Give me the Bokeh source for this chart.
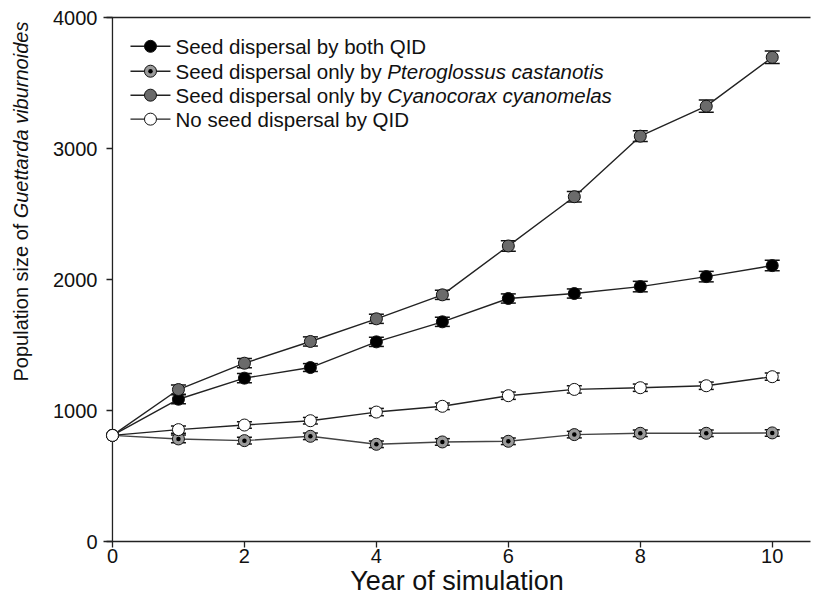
import numpy as np
from bokeh.plotting import figure
from bokeh.layouts import row
from bokeh.models import (ColumnDataSource, Whisker, TeeHead, LinearAxis,
                          FixedTicker, Range1d)
from bokeh.core.properties import value
from bokeh.embed import file_html
from bokeh.resources import INLINE

# ---------------- data ----------------
years = [0, 1, 2, 3, 4, 5, 6, 7, 8, 9, 10]
both_qid = [810, 1086, 1247, 1328, 1524, 1677, 1855, 1893, 1946, 2022, 2106]
both_qid_err = [0, 35, 35, 30, 35, 35, 35, 35, 40, 40, 40]
ptero = [810, 783, 770, 803, 742, 760, 765, 816, 826, 826, 829]
ptero_err = [0, 30, 25, 25, 25, 25, 25, 25, 25, 25, 25]
cyano = [810, 1160, 1361, 1527, 1700, 1883, 2256, 2632, 3094, 3323, 3696]
cyano_err = [0, 35, 35, 35, 35, 35, 40, 40, 41, 47, 48]
no_qid = [810, 854, 889, 922, 988, 1032, 1113, 1161, 1174, 1189, 1258]
no_qid_err = [0, 28, 25, 25, 28, 25, 28, 28, 28, 28, 28]

x_ticks = [0, 2, 4, 6, 8, 10]
y_ticks = [0, 1000, 2000, 3000, 4000]

legend_plain = ["Seed dispersal by both QID", "Seed dispersal only by",
                "Seed dispersal only by", "No seed dispersal by QID"]
legend_italic = ["", "Pteroglossus castanotis", "Cyanocorax cyanomelas", ""]

x_label = "Year of simulation"
y_label_plain = "Population size of"
y_label_italic = "Guettarda viburnoides"

FONT = "Liberation Sans"
LEG_FS = 20.5
PX_PER_X = 66.0   # screen px per year (layout constant)
TOP, BOTTOM = 17, 59
LEFT_W = 34
H = 600

yr = Range1d(0, 4000)

p = figure(width=786, height=H, output_backend="svg", toolbar_location=None,
           x_range=Range1d(-0.136, 10.58), y_range=yr,
           min_border_left=103 - LEFT_W, min_border_right=10,
           min_border_top=TOP, min_border_bottom=BOTTOM)
p.grid.visible = False
p.outline_line_color = None

for ax in (p.xaxis[0], p.yaxis[0]):
    ax.minor_tick_line_color = None
    ax.axis_line_color = "#222222"
    ax.axis_line_width = 1.3
    ax.major_tick_line_color = "#222222"
    ax.major_tick_line_width = 1.3
    ax.major_label_text_font = FONT
    ax.major_label_text_font_size = "20px"
    ax.major_label_text_color = "#111111"
p.xaxis.ticker = FixedTicker(ticks=x_ticks)
p.yaxis.ticker = FixedTicker(ticks=y_ticks)
p.xaxis.major_tick_out = 6
p.xaxis.major_tick_in = 0
p.xaxis.major_label_standoff = 1
p.xaxis.axis_label = x_label
p.xaxis.axis_label_text_font = FONT
p.xaxis.axis_label_text_font_size = "27px"
p.xaxis.axis_label_text_font_style = "normal"
p.xaxis.axis_label_text_color = "#111111"
p.xaxis.axis_label_standoff = 0
# y axis: drawn at frame left, its line replaced by a line at x = 0
p.yaxis.axis_line_color = None
p.yaxis.major_tick_in = 9
p.yaxis.major_tick_out = -3
p.yaxis.major_label_standoff = 6

top = LinearAxis(ticker=FixedTicker(ticks=[]), major_label_text_font_size="0px",
                 major_tick_line_color=None, minor_tick_line_color=None,
                 axis_line_color="#222222", axis_line_width=1.3)
p.add_layout(top, "above")

# y axis line at x = 0
p.segment(x0=[0], y0=[y_ticks[0]], x1=[0], y1=[y_ticks[-1]],
          line_color="#222222", line_width=1.3)

series = [
    (both_qid, both_qid_err, "black", "#222222"),
    (ptero, ptero_err, "#9a9a9a", "#444444"),
    (cyano, cyano_err, "#6b6b6b", "#222222"),
    (no_qid, no_qid_err, "white", "#222222"),
]

for vals, errs, fill, lc in series:
    p.line(years, vals, line_color=lc, line_width=1.4)

for vals, errs, fill, lc in series:
    v = np.array(vals[1:], dtype=float)
    e = np.array(errs[1:], dtype=float)
    src = ColumnDataSource(dict(x=years[1:], lo=v - e, hi=v + e))
    w = Whisker(base="x", upper="hi", lower="lo", source=src, dimension="height",
                line_color="#111111", line_width=1.5,
                upper_head=TeeHead(size=15, line_width=1.5, line_color="#111111"),
                lower_head=TeeHead(size=15, line_width=1.5, line_color="#111111"))
    p.add_layout(w)

def draw_markers(xs, ys, idx):
    fill = series[idx][2]
    p.scatter(xs, ys, size=12, fill_color=fill, line_color="#111111", line_width=1)
    if idx == 1:
        p.scatter(xs, ys, size=4.5, fill_color="black", line_color=None)

for idx in (0, 1, 2, 3):
    draw_markers(years, series[idx][0], idx)

# ---------------- legend (manual, for mixed italic) ----------------
leg_y = [3780, 3590, 3407, 3224]
lx0, lx1, lxm, ltx = 0.273, 0.879, 0.576, 0.955
italic_x = ltx + (10.34 * LEG_FS) / PX_PER_X
for i in range(4):
    y = leg_y[i]
    p.line([lx0, lx1], [y, y], line_color="#222222", line_width=1.4)
    draw_markers([lxm], [y], i)
    p.text([ltx], [y], text=[legend_plain[i]], text_font=value(FONT),
           text_font_size=f"{LEG_FS}px", text_baseline="middle", text_align="left",
           text_color="#111111")
    if legend_italic[i]:
        p.text([italic_x], [y], text=[legend_italic[i]], text_font=value(FONT),
               text_font_style="italic", text_font_size=f"{LEG_FS}px",
               text_baseline="middle", text_align="left", text_color="#111111")

# ---------------- y-axis title (mixed roman / italic) in a side panel -------
lf = figure(width=LEFT_W, height=H, output_backend="svg", toolbar_location=None,
            x_range=Range1d(0, LEFT_W), y_range=Range1d(0, H),
            x_axis_location=None, y_axis_location=None,
            min_border_left=0, min_border_right=0,
            min_border_top=0, min_border_bottom=0)
lf.grid.visible = False
lf.outline_line_color = None
joint = H - 236        # screen-px layout position of the roman/italic junction
lf.text([20], [joint], text=[y_label_plain], angle=np.pi / 2,
        text_align="right", text_baseline="middle", text_font=value(FONT),
        text_font_size="20px", text_color="#111111")
lf.text([20], [joint + 6], text=[y_label_italic], angle=np.pi / 2,
        text_align="left", text_baseline="middle", text_font=value(FONT),
        text_font_style="italic", text_font_size="20px", text_color="#111111")

layout = row(lf, p)
open("out.html", "w").write(file_html(layout, INLINE))
